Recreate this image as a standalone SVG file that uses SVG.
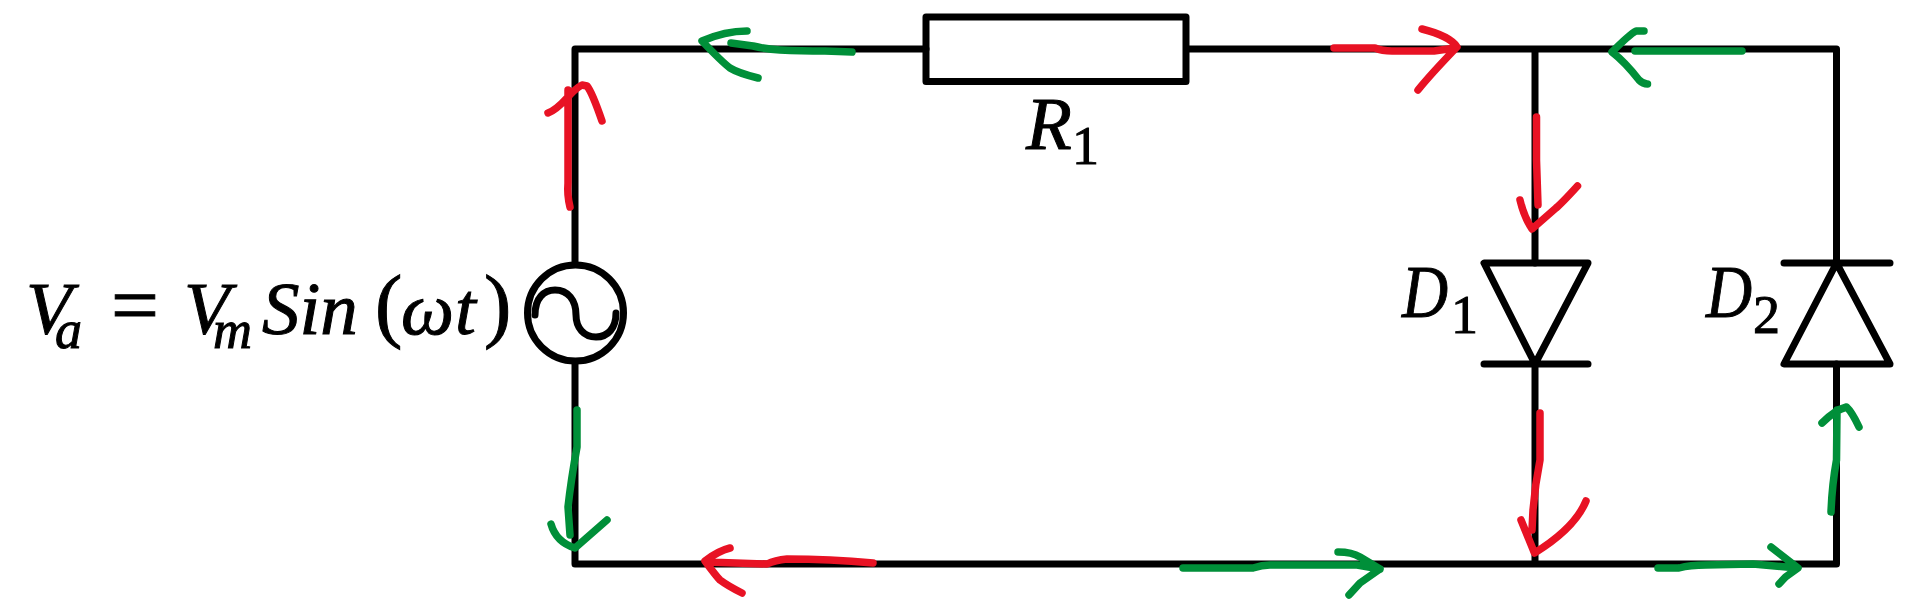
<svg xmlns="http://www.w3.org/2000/svg" width="1912" height="610" viewBox="0 0 1912 610">
<style>
.w{fill:none;stroke:#000;stroke-width:7;stroke-linejoin:round;stroke-linecap:round}
.r{fill:none;stroke:#e81224;stroke-width:7.500;stroke-linejoin:round;stroke-linecap:round}
.g{fill:none;stroke:#008f39;stroke-width:7.500;stroke-linejoin:round;stroke-linecap:round}
text{font-family:"Liberation Serif",serif;font-style:italic;fill:#000;stroke:#000;stroke-width:1;font-size:75px}
.s{font-size:54px}.n{font-style:normal}
</style>
<rect width="1912" height="610" fill="#fff"/>
<g id="connectors">
<path class="w" d="M575 262V49H926M1187 49H1836.500V263M1836.500 364V564H575V364M1535 49V263M1535 364V564"/>
<g id="current-red">
<path class="r" d="M570 207Q567 195 568 183V90M548 113Q556 110 567 98Q576 88 582 85L587 86Q592 92 602 121"/>
<path class="r" d="M1334 48H1375Q1382 51 1392 51H1434L1455 48M1422 29Q1450 36 1457 47Q1430 75 1418 90"/>
<path class="r" d="M1536.500 117V160L1538 205M1520 200Q1524 217 1532 229L1556 208Q1562 203 1577.500 186"/>
<path class="r" d="M1540 413V460Q1535 485 1533 510L1532 530M1521 520L1534.500 553Q1575 528 1586 501"/>
<path class="r" d="M873 563Q830 559 787 559Q775 560 767 564L707 562M730 548Q718 551 705 561Q716 576 720 580Q728 586 742 593"/>
</g>
<g id="current-green">
<path class="g" d="M852 52L825 51Q800 51 780 50Q765 49 753 46L731 43M747 31Q725 31 702 41Q722 62 730 68Q738 73 758 78"/>
<path class="g" d="M1635 51H1742M1644 31H1636Q1630 34 1612 52Q1625 62 1639 80Q1643 84 1647.500 84"/>
<path class="g" d="M577 410V447Q571 480 568 507L570 535M551 524Q556 542 575 548L607 520"/>
<path class="g" d="M1183 568H1253Q1262 565 1270 565H1357L1380 569M1338 552Q1352 552 1360 557L1380 569L1360 583L1349 595"/>
<path class="g" d="M1658 568H1679Q1690 565 1706 565L1753 564L1797 568M1771 547L1798 568L1785.500 577L1779 584"/>
<path class="g" d="M1831 512Q1832 485 1836.500 460L1837 410M1822 423Q1835 410 1846.500 407Q1852 412 1859 427"/>
</g>
</g>
<g id="source">
<circle class="w" cx="575.500" cy="313" r="48"/>
<path class="w" d="M535 315C535 298 544 290 555 290C568 290 576 300 576 315C576 328 584 337 596 337C608 337 616 328 616 313"/>
<text><tspan x="26" y="334">V</tspan><tspan x="55" y="348" class="s">a</tspan><tspan x="111" y="334" class="n" style="font-size:85px">=</tspan><tspan x="184" y="334">V</tspan><tspan x="213" y="348" class="s">m</tspan><tspan x="262" y="334">Sin</tspan><tspan x="375" y="332" class="n" style="font-size:82px">(</tspan><tspan x="401" y="334">ω</tspan><tspan x="455" y="334">t</tspan><tspan x="484" y="332" class="n" style="font-size:82px">)</tspan></text>
</g>
<g id="R1">
<rect class="w" x="926" y="17" width="260" height="64.500"/>
<text><tspan x="1026" y="149">R</tspan><tspan x="1072" y="164" class="s n">1</tspan></text>
</g>
<g id="D1">
<path class="w" d="M1484 263H1588L1535 364ZM1484 364H1588"/>
<text transform="translate(1402 317) scale(.85 1)">D</text>
<text x="1451" y="333" class="s n">1</text>
</g>
<g id="D2">
<path class="w" d="M1784 364H1890L1836.500 263ZM1784 263H1890"/>
<text transform="translate(1706 317) scale(.85 1)">D</text>
<text x="1753" y="333" class="s n">2</text>
</g>
</svg>
